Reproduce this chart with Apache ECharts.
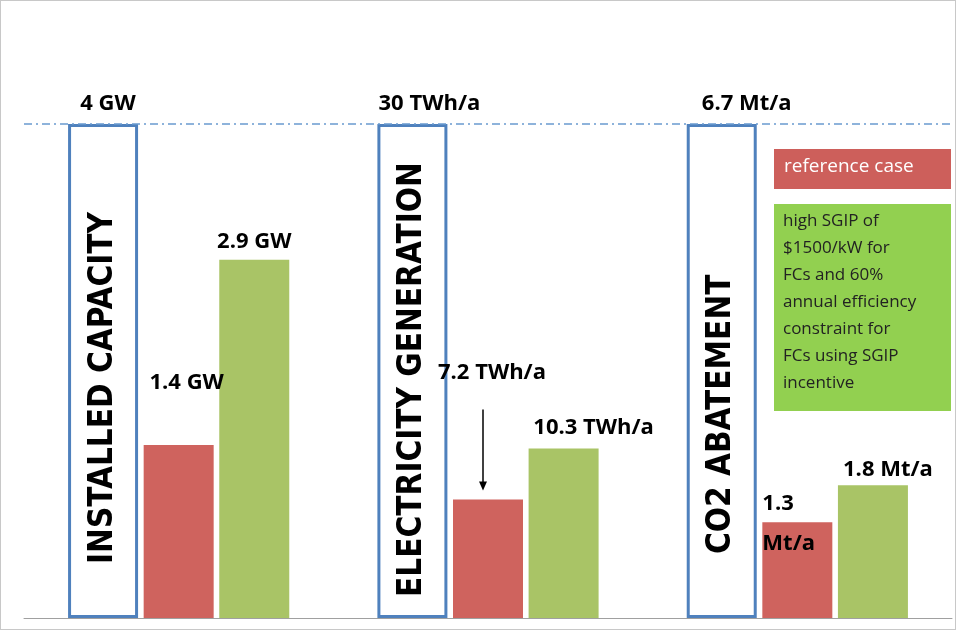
<!DOCTYPE html>
<html>
<head>
<meta charset="utf-8">
<script src="https://cdn.jsdelivr.net/npm/echarts@6/dist/echarts.min.js"></script>
<style>body{margin:0;background:#fff}#main{width:956px;height:630px;box-sizing:border-box;border:1px solid #c8c8c8}</style>
</head>
<body>
<div id="main"></div>
<script type="text/javascript">
// categories and values (bar height = share of the upper reference value)
var categories = ['INSTALLED CAPACITY', 'ELECTRICITY GENERATION', 'CO2 ABATEMENT'];
var maxLabels = ['4 GW', '30 TWh/a', '6.7 Mt/a'];
var maxValues = [4, 30, 6.7];
var refValues = [1.4, 7.2, 1.3];
var highValues = [2.9, 10.3, 1.8];
var refLabels = ['1.4 GW', '7.2 TWh/a', '1.3\nMt/a'];
var highLabels = ['2.9 GW', '10.3 TWh/a', '1.8 Mt/a'];

var font = 'Open Sans';
var chart = echarts.init(document.getElementById('main'));

var outlineDist = [54, 21, 64];
var maxOff = [[5, -4], [17, -4], [25, -4]];
var refOff = [[8, -37], [4, -102], [-35, 47]];
var refAlign = ['center', 'center', 'left'];
var highOff = [[0, -2], [30, -5], [15, 0]];

chart.setOption({
    animation: false,
    grid: {left: 23, right: 3, top: 123, bottom: 11},
    xAxis: {type: 'category', data: categories, axisTick: {show: false}, axisLabel: {show: false},
        axisLine: {lineStyle: {color: '#a0a0a0', width: 1}}},
    yAxis: {type: 'value', min: 0, max: 1, show: false, splitLine: {show: false}},
    series: [
        {
            type: 'bar', barWidth: 70, barGap: '8%',
            itemStyle: {color: '#fff', borderColor: '#4F81BD', borderWidth: 3},
            data: maxValues.map(function (v, i) {
                return {
                    value: 1,
                    label: {
                        show: true, position: 'insideBottom', rotate: 90, align: 'left', verticalAlign: 'middle',
                        distance: outlineDist[i], formatter: categories[i],
                        fontFamily: 'DejaVu Sans Condensed', fontWeight: 'bold', fontSize: 33, color: '#000'
                    }
                };
            }),
            markLine: {
                symbol: 'none', silent: true, label: {show: false},
                lineStyle: {color: '#6A9BD0', type: [8, 4, 2, 4], width: 1.5},
                data: [{yAxis: 1}]
            },
            markPoint: {
                symbol: 'circle', symbolSize: 0, silent: true,
                data: maxValues.map(function (v, i) {
                    return {coord: [i, 1], label: {show: true, position: 'top', formatter: maxLabels[i], offset: maxOff[i],
                        fontFamily: font, fontWeight: 'bold', fontSize: 22, color: '#000'}};
                })
            }
        },
        {
            type: 'bar', barWidth: 70,
            itemStyle: {color: '#CF635E'},
            data: refValues.map(function (v, i) {
                return {value: v / maxValues[i], label: {show: true, position: 'top', formatter: refLabels[i],
                    offset: refOff[i], align: refAlign[i], lineHeight: 40,
                    fontFamily: font, fontWeight: 'bold', fontSize: 22, color: '#000'}};
            })
        },
        {
            type: 'bar', barWidth: 70,
            itemStyle: {color: '#A9C466'},
            data: highValues.map(function (v, i) {
                return {value: v / maxValues[i], label: {show: true, position: 'top', formatter: highLabels[i],
                    offset: highOff[i], fontFamily: font, fontWeight: 'bold', fontSize: 22, color: '#000'}};
            })
        }
    ]
});

// arrow from the 7.2 TWh/a label down to its bar
var barTop = chart.convertToPixel({gridIndex: 0}, [1, refValues[1] / maxValues[1]]);
var ax = barTop[0] - 5;
chart.setOption({graphic: [
    {id: 'r1', type: 'rect', left: 773, top: 148, shape: {width: 177, height: 40}, style: {fill: '#CD5F5B'}},
    {id: 't1', type: 'text', left: 783, top: 156, style: {text: 'reference case', fill: '#fff', font: '19px "Open Sans"'}},
    {id: 'r2', type: 'rect', left: 773, top: 203, shape: {width: 177, height: 207}, style: {fill: '#92D050'}},
    {id: 't2', type: 'text', left: 782, top: 207, style: {
        text: 'high SGIP of\n$1500/kW for\nFCs and 60%\nannual efficiency\nconstraint for\nFCs using SGIP\nincentive',
        fill: '#222', font: '17px "Open Sans"', lineHeight: 27}},
    {id: 'a1', type: 'line', shape: {x1: ax, y1: barTop[1] - 90, x2: ax, y2: barTop[1] - 12}, style: {stroke: '#000', lineWidth: 1.5}},
    {id: 'a2', type: 'polygon', shape: {points: [[ax - 4, barTop[1] - 18], [ax + 4, barTop[1] - 18], [ax, barTop[1] - 9]]}, style: {fill: '#000'}}
]});
</script>
</body>
</html>
